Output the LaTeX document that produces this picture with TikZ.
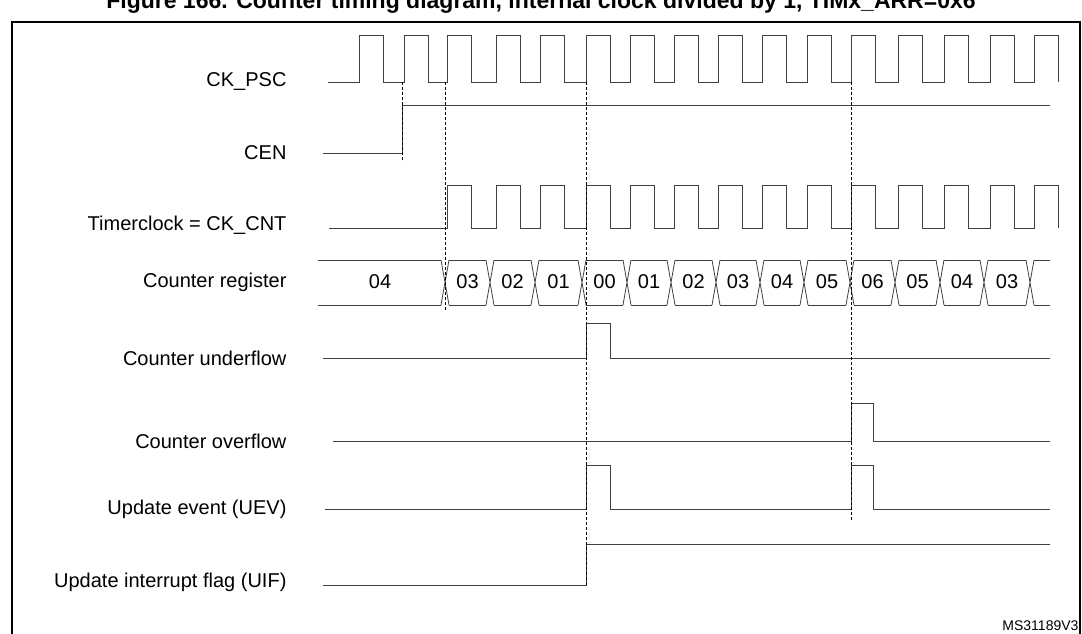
\documentclass[tikz,border=0pt]{standalone}
\usepackage{fontspec}
\setmainfont{Liberation Sans}
\begin{document}
\begin{tikzpicture}[x=1pt,y=-1pt,
  sig/.style={line width=0.8pt,black!75},
  guide/.style={densely dashed,line width=0.6pt},
  lab/.style={anchor=east,font=\fontsize{20}{20}\selectfont},
  val/.style={font=\fontsize{20}{20}\selectfont}]
\useasboundingbox (0,0) rectangle (1082,634);
\node[font=\bfseries\fontsize{23}{23}\selectfont] (title) at (541,3) {Figure 166. Counter timing diagram, internal clock divided by 1, TIMx\_ARR=0x6};
\draw[line width=1.2pt] (12,640) -- (12,22) -- (1080,22) -- (1080,640);
% labels
\node[lab] (l1) at (290,82) {CK\_PSC};
\node[lab] (l2) at (290,153) {CEN};
\node[lab] (l3) at (290,225) {Timerclock = CK\_CNT};
\node[lab] (l4) at (290,282) {Counter register};
\node[lab] (l5) at (290,358) {Counter underflow};
\node[lab] (l6) at (290,441) {Counter overflow};
\node[lab] (l7) at (290,509) {Update event (UEV)};
\node[lab] (l8) at (290,582) {Update interrupt flag (UIF)};
\node[anchor=south east,font=\fontsize{14}{14}\selectfont] (ms) at (1082,634) {MS31189V3};
% CK_PSC
\def\rises{359,404,447,496,540,586,630,674,718,762,807,851,898,944,990,1034}
\draw[sig] (328,82) \foreach \r in \rises {-- (\r,82) -- (\r,35) -- (\r+24,35) -- (\r+24,82)};
% CEN
\draw[sig] (323,153) -- (402,153) -- (402,105) -- (1050,105);
% Timerclock
\draw[sig] (329,228) \foreach \r in {447,496,540,586,630,674,718,762,807,851,898,944,990,1034} {-- (\r,228) -- (\r,185) -- (\r+24,185) -- (\r+24,228)};
% counter register
\draw[sig] (318,260) -- (441,260) (318,305) -- (441,305);
\foreach \a/\b/\v in {445/490/03,490/535/02,535/582/01,582/627/00,627/671/01,671/716/02,716/760/03,760/804/04,804/850/05,850/895/06,895/940/05,940/984/04,984/1030/03}{
  \draw[sig] (\a+4,260) -- (\b-4,260) (\a+4,305) -- (\b-4,305);
  \node[val] at ({(\a+\b)/2},282) {\v};
}
\node[val] at (380,282) {04};
\foreach \x in {445,490,535,582,627,671,716,760,804,850,895,940,984,1030}{
  \draw[sig] (\x-4,260) -- (\x+4,305) (\x-4,305) -- (\x+4,260);
}
\draw[sig] (1034,260) -- (1050,260) (1034,305) -- (1050,305);
% underflow
\draw[sig] (323,358) -- (586,358) -- (586,323) -- (610,323) -- (610,358) -- (1050,358);
% overflow
\draw[sig] (333,441) -- (851,441) -- (851,403) -- (873,403) -- (873,441) -- (1050,441);
% UEV
\draw[sig] (325,509) -- (586,509) -- (586,465) -- (610,465) -- (610,509) -- (851,509) -- (851,465) -- (873,465) -- (873,509) -- (1050,509);
% UIF
\draw[sig] (323,585) -- (586,585) -- (586,544) -- (1050,544);
% dashed
\draw[guide] (402,82) -- (402,162);
\draw[guide] (445,82) -- (445,310);
\draw[guide] (586,82) -- (586,585);
\draw[guide] (851,82) -- (851,520);
\end{tikzpicture}
\end{document}
